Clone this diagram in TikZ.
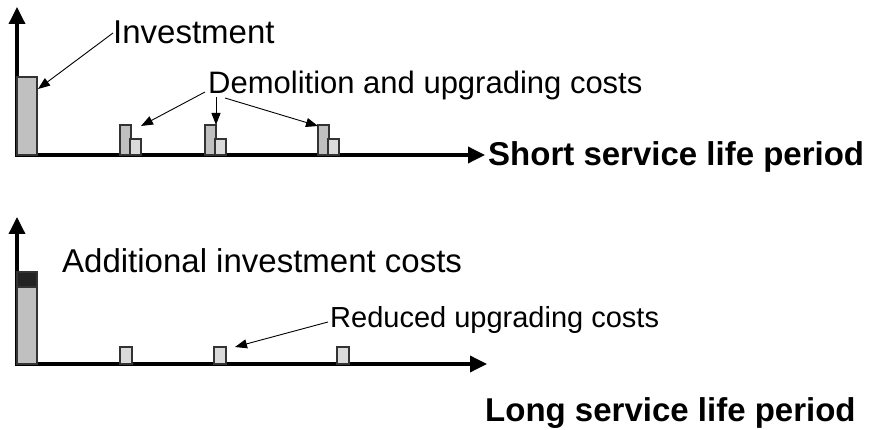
\documentclass[tikz,border=0pt]{standalone}
\usepackage{fontspec}
\setmainfont{Liberation Sans}
\usepackage{tikz}
\usetikzlibrary{arrows.meta, positioning}
\definecolor{barcolor}{RGB}{192, 192, 192}
\definecolor{lightbar}{RGB}{218, 218, 218}
\definecolor{extracolor}{RGB}{35, 35, 35}

\begin{document}
\begin{tikzpicture}[
    x=1pt, y=-1pt,
    axis/.style={line width=3.5pt, line cap=rect, -{Triangle[length=17pt, width=16pt]}},
    pointer/.style={line width=0.9pt, -{Triangle[length=12pt, width=9pt]}},
    bar/.style={draw=black!80, line width=1.2pt, fill=barcolor, inner sep=0pt, outer sep=0pt, anchor=south west, minimum width=11pt},
    smallbar/.style={bar, fill=lightbar, minimum height=16pt},
    caption/.style={font=\fontsize{33}{36}\selectfont\bfseries, anchor=base west, inner sep=0pt},
    label/.style={font=\fontsize{33}{36}\selectfont, anchor=base west, inner sep=0pt},
    smalllabel/.style={font=\fontsize{31}{34}\selectfont, anchor=base west, inner sep=0pt}
]
    \useasboundingbox (0,0) rectangle (876,430);

    % Short service life: axes
    \coordinate (oTop) at (17,155);
    \coordinate (yTop) at (17,7);
    \coordinate (xTop) at (485,155);
    \draw[axis] (oTop) -- (yTop);
    \draw[axis] (oTop) -- (xTop);

    % Short service life: bars
    \node[bar, minimum width=20pt, minimum height=78pt] (inv) at (oTop) {};
    \foreach \x [count=\i] in {120, 205, 318} {
        \node[bar, minimum height=30pt] (dem\i) at (\x,155) {};
        \node[smallbar] (upg\i) at (\x+10,155) {};
    }

    % Short service life: labels
    \node[label] (invtext) at (113,44) {Investment};
    \node[smalllabel] (demtext) at (208,94) {Demolition and upgrading costs};
    \node[caption] (shorttext) at (488,166) {Short service life period};

    \draw[pointer] ([shift={(0pt,11pt)}]invtext.base west) -- ([shift={(1pt,-12pt)}]inv.north east);
    \draw[pointer] ([shift={(-3pt,2pt)}]demtext.base west) -- ([yshift=13pt]upg1.north east);
    \draw[pointer] ([shift={(8pt,-3pt)}]demtext.base west) -- (dem2.north east);
    \draw[pointer] ([shift={(17pt,-4pt)}]demtext.base west) -- ([yshift=-1pt]dem3.north west);

    % Long service life: axes
    \coordinate (oBot) at (17,364);
    \coordinate (yBot) at (17,217);
    \coordinate (xBot) at (487,364);
    \draw[axis] (oBot) -- (yBot);
    \draw[axis] (oBot) -- (xBot);

    % Long service life: bars
    \node[bar, minimum width=20pt, minimum height=77pt] (inv2) at (oBot) {};
    \node[bar, fill=extracolor, minimum width=20pt, minimum height=15pt] (extra) at (inv2.north west) {};
    \foreach \x [count=\i] in {120, 214, 337} {
        \node[smallbar, minimum width=12pt, minimum height=17pt] (low\i) at (\x,364) {};
    }

    % Long service life: labels
    \node[label] (addtext) at (62,273) {Additional investment costs};
    \node[smalllabel, font=\fontsize{29}{32}\selectfont] (redtext) at (330,328) {Reduced upgrading costs};
    \node[caption] (longtext) at (485,421) {Long service life period};

    \draw[pointer] ([shift={(-2pt,6pt)}]redtext.base west) -- ([xshift=9pt]low2.north east);
\end{tikzpicture}
\end{document}
